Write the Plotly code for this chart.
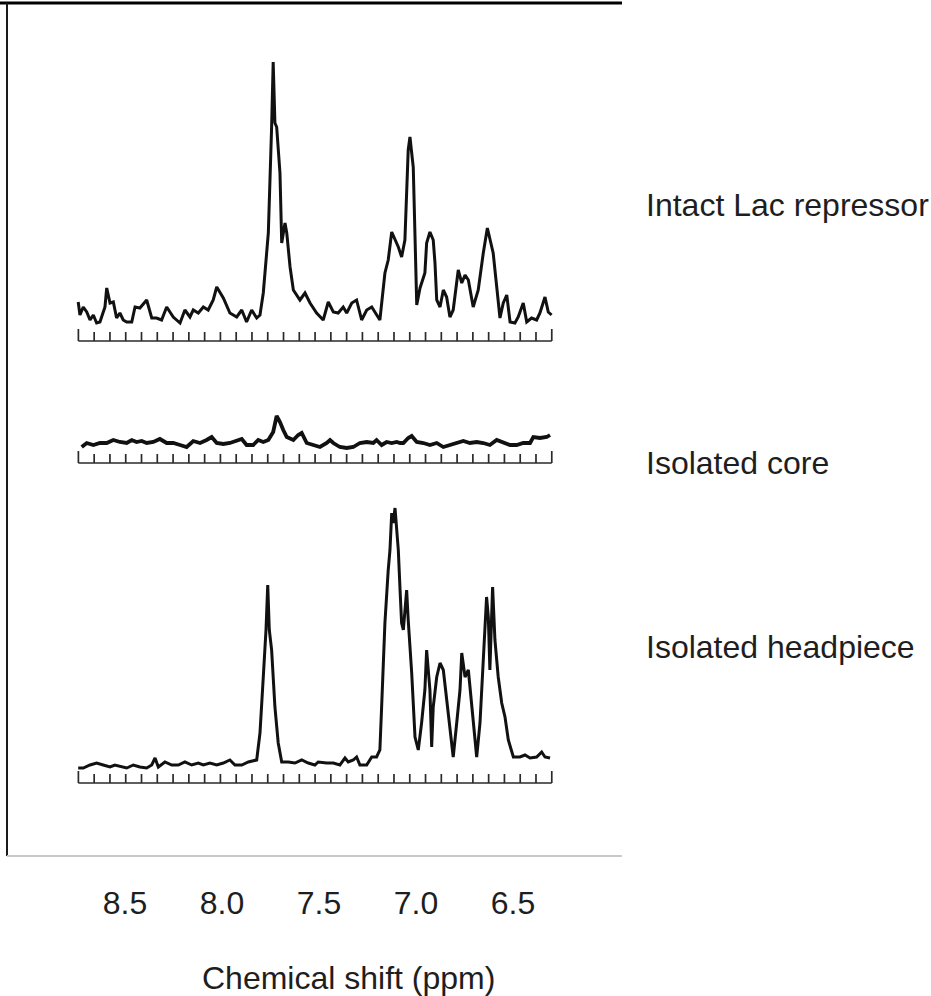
import numpy as np
import plotly.graph_objects as go

# ---------------- data ----------------
# chemical shift (ppm) and intensity above each spectrum's ruler (arbitrary units)
lac_ppm = [8.741, 8.732, 8.715, 8.697, 8.680, 8.663, 8.646, 8.629, 8.603, 8.594,
           8.577, 8.560, 8.543, 8.526, 8.509, 8.491, 8.465, 8.448, 8.423, 8.388,
           8.362, 8.337, 8.311, 8.285, 8.251, 8.216, 8.191, 8.165, 8.148, 8.122,
           8.096, 8.071, 8.045, 8.027, 7.993, 7.959, 7.924, 7.898, 7.873, 7.847,
           7.821, 7.804, 7.787, 7.761, 7.744, 7.736, 7.727, 7.718, 7.701, 7.692,
           7.675, 7.666, 7.649, 7.632, 7.598, 7.572, 7.546, 7.512, 7.478, 7.452,
           7.426, 7.401, 7.375, 7.357, 7.331, 7.306, 7.280, 7.254, 7.228, 7.203,
           7.186, 7.160, 7.143, 7.125, 7.108, 7.091, 7.074, 7.057, 7.040, 7.031,
           7.014, 6.996, 6.979, 6.954, 6.945, 6.928, 6.911, 6.902, 6.893, 6.876,
           6.859, 6.842, 6.825, 6.808, 6.782, 6.764, 6.747, 6.730, 6.705, 6.679,
           6.653, 6.632, 6.602, 6.584, 6.567, 6.550, 6.532, 6.515, 6.490, 6.473,
           6.447, 6.429, 6.404, 6.378, 6.361, 6.335, 6.318, 6.301]
lac_int = [39, 26, 34, 29, 21, 26, 18, 19, 34, 53,
           38, 39, 23, 28, 21, 19, 19, 34, 33, 41,
           23, 23, 21, 34, 24, 18, 31, 24, 31, 28,
           34, 31, 41, 54, 43, 28, 24, 31, 19, 31,
           23, 26, 48, 108, 214, 279, 218, 214, 168, 98,
           118, 108, 74, 51, 41, 48, 38, 28, 21, 39,
           29, 28, 34, 28, 38, 41, 21, 31, 34, 26,
           21, 68, 81, 109, 101, 94, 84, 101, 191, 204,
           174, 36, 53, 68, 98, 109, 101, 78, 41, 34,
           51, 44, 24, 31, 71, 58, 66, 61, 34, 51,
           88, 113, 88, 54, 23, 38, 46, 19, 18, 24,
           38, 19, 23, 21, 28, 44, 29, 26]

core_ppm = [8.723, 8.697, 8.663, 8.629, 8.594, 8.560, 8.526, 8.491, 8.465, 8.440,
            8.414, 8.388, 8.354, 8.320, 8.285, 8.251, 8.216, 8.182, 8.148, 8.113,
            8.079, 8.053, 8.027, 7.993, 7.959, 7.924, 7.898, 7.873, 7.839, 7.813,
            7.787, 7.761, 7.736, 7.718, 7.701, 7.684, 7.666, 7.632, 7.607, 7.589,
            7.563, 7.529, 7.495, 7.460, 7.443, 7.426, 7.392, 7.357, 7.323, 7.289,
            7.254, 7.220, 7.203, 7.177, 7.151, 7.125, 7.099, 7.082, 7.065, 7.040,
            7.022, 6.996, 6.962, 6.928, 6.893, 6.859, 6.825, 6.790, 6.756, 6.722,
            6.687, 6.653, 6.619, 6.584, 6.550, 6.515, 6.481, 6.447, 6.412, 6.395,
            6.361, 6.326, 6.309]
core_int = [16, 20, 18, 20, 20, 23, 21, 20, 23, 21,
            22, 20, 21, 24, 20, 20, 18, 16, 22, 20,
            23, 26, 20, 19, 20, 22, 24, 18, 18, 23,
            21, 23, 31, 47, 41, 33, 26, 23, 28, 30,
            20, 18, 16, 20, 23, 20, 16, 15, 16, 20,
            21, 20, 23, 18, 21, 20, 21, 20, 20, 25,
            27, 21, 20, 18, 20, 16, 18, 20, 22, 20,
            21, 20, 18, 23, 21, 18, 18, 20, 20, 26,
            25, 26, 28]

head_ppm = [8.741, 8.715, 8.680, 8.646, 8.612, 8.577, 8.552, 8.517, 8.491, 8.457,
            8.423, 8.388, 8.362, 8.345, 8.328, 8.294, 8.259, 8.225, 8.191, 8.156,
            8.122, 8.096, 8.062, 8.027, 7.993, 7.959, 7.933, 7.898, 7.864, 7.821,
            7.804, 7.787, 7.773, 7.764, 7.756, 7.744, 7.727, 7.710, 7.692, 7.658,
            7.624, 7.589, 7.555, 7.521, 7.504, 7.460, 7.426, 7.392, 7.366, 7.349,
            7.323, 7.306, 7.289, 7.254, 7.228, 7.203, 7.186, 7.177, 7.160, 7.143,
            7.134, 7.125, 7.117, 7.108, 7.099, 7.091, 7.082, 7.074, 7.065, 7.048,
            7.040, 7.022, 7.005, 6.988, 6.971, 6.954, 6.945, 6.928, 6.919, 6.911,
            6.893, 6.876, 6.859, 6.842, 6.825, 6.808, 6.790, 6.773, 6.764, 6.747,
            6.730, 6.713, 6.687, 6.670, 6.653, 6.636, 6.627, 6.619, 6.605, 6.593,
            6.576, 6.558, 6.541, 6.524, 6.498, 6.464, 6.438, 6.412, 6.378, 6.352,
            6.335, 6.309]
head_int = [15, 15, 18, 20, 18, 16, 18, 16, 15, 18,
            16, 15, 18, 25, 16, 21, 18, 18, 21, 18,
            20, 18, 20, 18, 20, 23, 18, 18, 21, 23,
            50, 106, 153, 198, 153, 133, 76, 40, 21, 21,
            20, 23, 20, 18, 21, 20, 20, 18, 25, 21,
            23, 26, 18, 18, 26, 26, 33, 76, 160, 213,
            233, 270, 260, 275, 253, 233, 193, 160, 153, 193,
            163, 110, 46, 33, 60, 93, 133, 93, 36, 76,
            106, 120, 113, 86, 53, 26, 60, 93, 130, 106,
            113, 76, 26, 60, 126, 186, 166, 113, 196, 143,
            106, 80, 66, 43, 26, 26, 28, 25, 26, 31,
            26, 25]

spectrum_names = ["Intact Lac repressor", "Isolated core", "Isolated headpiece"]
tick_values = [8.5, 8.0, 7.5, 7.0, 6.5]
tick_labels = ["8.5", "8.0", "7.5", "7.0", "6.5"]
axis_title = "Chemical shift (ppm)"

# ---------------- layout constants ----------------
W, H = 931, 996
ML, MR, MT, MB = 7, 309, 3, 140
PLOT_W = W - ML - MR
PLOT_H = H - MT - MB
X_RANGE = [9.108, 5.938]          # reversed ppm axis
Y_RANGE = [0, PLOT_H]
BASES = [515, 393, 73]            # vertical offset of each spectrum's ruler
LINE_W = [3.0, 3.8, 3.0]
RULER_START, RULER_END, RULER_N = 8.74, 6.30, 31
FONT = "Liberation Sans, Arial, Helvetica, sans-serif"
TXT = "#1e1e1e"
INK = "#111111"
FS = 32

series = [(lac_ppm, lac_int), (core_ppm, core_int), (head_ppm, head_int)]

fig = go.Figure()


def ruler(base):
    xs = [RULER_START, RULER_END, None]
    ys = [base, base, None]
    ticks = np.linspace(RULER_START, RULER_END, RULER_N)
    for i, t in enumerate(ticks):
        h = 12 if i in (0, RULER_N - 1) else 9
        xs += [t, t, None]
        ys += [base, base + h, None]
    return xs, ys


for (ppm, inten), base, lw in zip(series, BASES, LINE_W):
    rx, ry = ruler(base)
    fig.add_trace(go.Scatter(x=rx, y=ry, mode="lines",
                             line=dict(color="#2a2a2a", width=1.7),
                             hoverinfo="skip", showlegend=False))
    fig.add_trace(go.Scatter(x=ppm, y=[base + v for v in inten], mode="lines",
                             line=dict(color=INK, width=lw),
                             hoverinfo="skip", showlegend=False))

# frame of the scanned figure
fig.add_shape(type="line", xref="paper", yref="paper",
              x0=-ML / PLOT_W, x1=1, y0=1, y1=1,
              line=dict(color="#000000", width=3))
fig.add_shape(type="line", xref="paper", yref="paper",
              x0=0, x1=0, y0=0, y1=1,
              line=dict(color="#1a1a1a", width=2))
fig.add_shape(type="line", xref="paper", yref="paper",
              x0=0, x1=1, y0=0, y1=0,
              line=dict(color="#c8c8c8", width=2))

# labels of the spectra (right side)
label_y_px = [205, 463, 647]
for name, yp in zip(spectrum_names, label_y_px):
    fig.add_annotation(text=name, xref="paper", yref="paper",
                       x=(644 - ML) / PLOT_W, y=(MT + PLOT_H - yp) / PLOT_H,
                       xanchor="left", yanchor="middle", showarrow=False,
                       font=dict(family=FONT, size=FS, color=TXT))

# axis title
fig.add_annotation(text=axis_title, xref="x", yref="paper",
                   x=8.5 - (349 - 125) / 194, y=(MT + PLOT_H - 978) / PLOT_H,
                   xanchor="center", yanchor="middle", showarrow=False,
                   font=dict(family=FONT, size=FS, color=TXT))

fig.update_layout(
    width=W, height=H,
    margin=dict(l=ML, r=MR, t=MT, b=MB, autoexpand=False),
    paper_bgcolor="white", plot_bgcolor="white",
    xaxis=dict(range=X_RANGE, tickvals=tick_values, ticktext=tick_labels,
               ticks="outside", ticklen=19, tickcolor="rgba(0,0,0,0)",
               showgrid=False, zeroline=False, showline=False,
               tickfont=dict(family=FONT, size=FS, color=TXT)),
    yaxis=dict(range=Y_RANGE, visible=False, showgrid=False, zeroline=False),
)

fig.write_html("out.html",
               config={"displayModeBar": False},
               post_script="document.body.style.margin='0';"
                           "document.body.style.overflow='hidden';")
